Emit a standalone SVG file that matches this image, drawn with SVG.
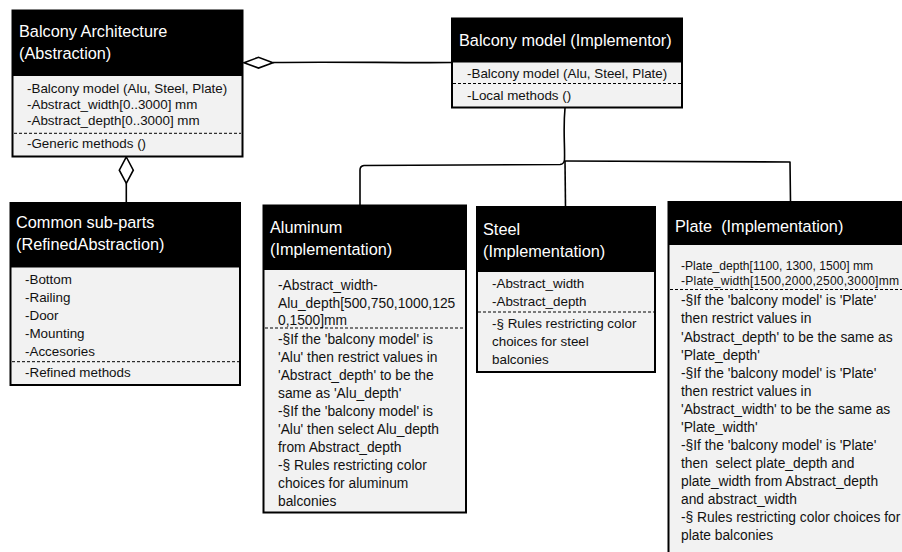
<svg xmlns="http://www.w3.org/2000/svg" width="902" height="552" viewBox="0 0 902 552">
<style>
.box{fill:#f2f2f2;stroke:#000;stroke-width:2}
.hdr{fill:#000}
.ht{font-family:"Liberation Sans",Arial,sans-serif;font-size:16.3px;fill:#fff}
.bt{font-family:"Liberation Sans",Arial,sans-serif;font-size:13.4px;fill:#111}
.bt2{font-family:"Liberation Sans",Arial,sans-serif;font-size:13.8px;fill:#111}
.sm{font-family:"Liberation Sans",Arial,sans-serif;font-size:12.1px;fill:#111}
.dash{stroke:#000;stroke-width:1;stroke-dasharray:3 2;fill:none}
.con{stroke:#000;stroke-width:1.6;fill:none;stroke-linejoin:round}
.dia{fill:#fff;stroke:#000;stroke-width:1.6}
</style>
<rect width="902" height="552" fill="#fff"/>
<g id="connectors">
<path class="con" d="M273,62.5 C330,61.5 400,63 452,62.5"/>
<polygon class="dia" points="244,62.7 258.5,57.3 273,62.7 258.5,68.1"/>
<path class="con" d="M126.3,183.3 L126.3,203"/>
<polygon class="dia" points="126.3,157 133.3,170.2 126.3,183.3 119.3,170.2"/>
<path class="con" d="M565,108 C563,130 565,145 564.5,160 Q564,164 560,164.5 L364,165.5 Q360,166 360,170 L360,205.5"/>
<path class="con" d="M565,161 L565.5,207"/>
<path class="con" d="M565,161 C650,161.5 720,161.5 790,162 L790.5,202"/>
</g>
<g id="balcony-architecture">
<rect class="box" x="12.5" y="10.5" width="230" height="146"/>
<rect class="hdr" x="12.5" y="10.5" width="230" height="65.5"/>
<text class="ht" x="19" y="37">Balcony Architecture</text>
<text class="ht" x="19" y="59">(Abstraction)</text>
<text class="bt" x="27" y="92.5">-Balcony model (Alu, Steel, Plate)</text>
<text class="bt" x="27" y="108.5">-Abstract_width[0..3000] mm</text>
<text class="bt" x="27" y="124.5">-Abstract_depth[0..3000] mm</text>
<line class="dash" x1="14" y1="133.3" x2="241" y2="133.3"/>
<text class="bt" x="27" y="148">-Generic methods ()</text>
</g>
<g id="balcony-model">
<rect class="box" x="452" y="18.5" width="230" height="89"/>
<rect class="hdr" x="452" y="18.5" width="230" height="44"/>
<text class="ht" x="459" y="45.5">Balcony model (Implementor)</text>
<text class="bt" x="467" y="78">-Balcony model (Alu, Steel, Plate)</text>
<line class="dash" x1="453" y1="83.5" x2="681" y2="83.5"/>
<text class="bt" x="467" y="99.5">-Local methods ()</text>
</g>
<g id="common-sub-parts">
<rect class="box" x="10.5" y="203" width="229.5" height="182"/>
<rect class="hdr" x="10.5" y="203" width="229.5" height="64.5"/>
<text class="ht" x="16" y="228">Common sub-parts</text>
<text class="ht" x="16" y="250">(RefinedAbstraction)</text>
<text class="bt" x="25" y="284">-Bottom</text>
<text class="bt" x="25" y="302">-Railing</text>
<text class="bt" x="25" y="320">-Door</text>
<text class="bt" x="25" y="338">-Mounting</text>
<text class="bt" x="25" y="355.5">-Accesories</text>
<line class="dash" x1="12" y1="361.7" x2="239" y2="361.7"/>
<text class="bt" x="25" y="376.5">-Refined methods</text>
</g>
<g id="aluminum">
<rect class="box" x="263.5" y="205.5" width="202.5" height="307"/>
<rect class="hdr" x="263.5" y="205.5" width="202.5" height="64.5"/>
<text class="ht" x="270" y="233">Aluminum</text>
<text class="ht" x="270" y="255">(Implementation)</text>
<text class="bt2" x="278" y="290">-Abstract_width-</text>
<text class="bt2" x="278" y="308">Alu_depth[500,750,1000,125</text>
<text class="bt2" x="278" y="325">0,1500]mm</text>
<line class="dash" x1="265" y1="328" x2="465" y2="328"/>
<text class="bt2" x="278" y="344">-§If the 'balcony model' is</text>
<text class="bt2" x="278" y="362">'Alu' then restrict values in</text>
<text class="bt2" x="278" y="380">'Abstract_depth' to be the</text>
<text class="bt2" x="278" y="398">same as 'Alu_depth'</text>
<text class="bt2" x="278" y="416">-§If the 'balcony model' is</text>
<text class="bt2" x="278" y="434">'Alu' then select Alu_depth</text>
<text class="bt2" x="278" y="452">from Abstract_depth</text>
<text class="bt2" x="278" y="470">-§ Rules restricting color</text>
<text class="bt2" x="278" y="488">choices for aluminum</text>
<text class="bt2" x="278" y="506">balconies</text>
</g>
<g id="steel">
<rect class="box" x="477" y="207" width="178" height="165"/>
<rect class="hdr" x="477" y="207" width="178" height="65"/>
<text class="ht" x="483" y="235">Steel</text>
<text class="ht" x="483" y="257">(Implementation)</text>
<text class="bt" x="492" y="288">-Abstract_width</text>
<text class="bt" x="492" y="305.5">-Abstract_depth</text>
<line class="dash" x1="478" y1="312" x2="654" y2="312"/>
<text class="bt" x="492" y="328">-§ Rules restricting color</text>
<text class="bt" x="492" y="346">choices for steel</text>
<text class="bt" x="492" y="363.5">balconies</text>
</g>
<g id="plate">
<rect class="box" x="668.5" y="202" width="260" height="370"/>
<rect class="hdr" x="668.5" y="202" width="260" height="43"/>
<text class="ht" x="675" y="232" xml:space="preserve">Plate  (Implementation)</text>
<text class="sm" x="681" y="269.5">-Plate_depth[1100, 1300, 1500] mm</text>
<text class="sm" x="681" y="284.5" textLength="218" lengthAdjust="spacing">-Plate_width[1500,2000,2500,3000]mm</text>
<line class="dash" x1="670" y1="289.5" x2="902" y2="289.5"/>
<text class="bt2" x="681" y="305">-§If the 'balcony model' is 'Plate'</text>
<text class="bt2" x="681" y="323">then restrict values in</text>
<text class="bt2" x="681" y="341.5">'Abstract_depth' to be the same as</text>
<text class="bt2" x="681" y="359.5">'Plate_depth'</text>
<text class="bt2" x="681" y="377.5">-§If the 'balcony model' is 'Plate'</text>
<text class="bt2" x="681" y="395.5">then restrict values in</text>
<text class="bt2" x="681" y="413.5">'Abstract_width' to be the same as</text>
<text class="bt2" x="681" y="431.5">'Plate_width'</text>
<text class="bt2" x="681" y="449.5">-§If the 'balcony model' is 'Plate'</text>
<text class="bt2" x="681" y="467.5" xml:space="preserve">then  select plate_depth and</text>
<text class="bt2" x="681" y="485.5">plate_width from Abstract_depth</text>
<text class="bt2" x="681" y="503.5">and abstract_width</text>
<text class="bt2" x="681" y="521.5">-§ Rules restricting color choices for</text>
<text class="bt2" x="681" y="539.5">plate balconies</text>
</g>
</svg>
